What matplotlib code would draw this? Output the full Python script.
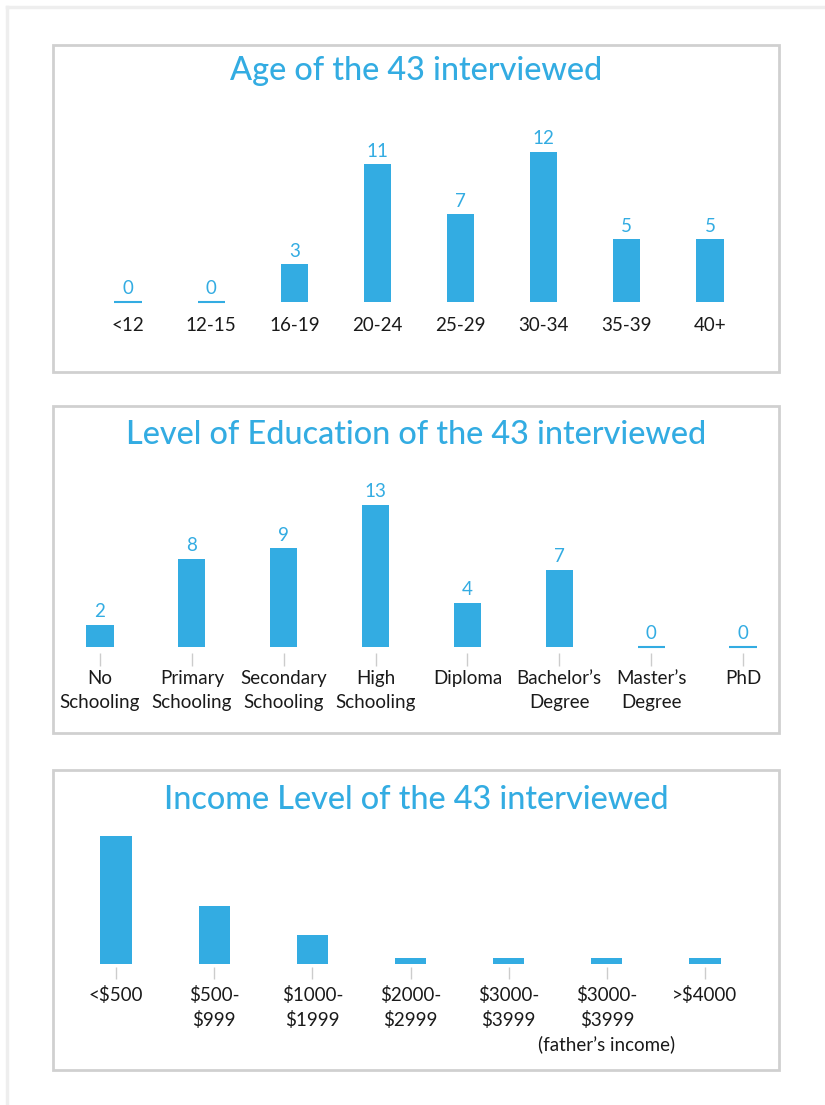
import matplotlib
matplotlib.use("Agg")
import matplotlib.pyplot as plt
from matplotlib.patches import Rectangle
from matplotlib.lines import Line2D

# ---------------- data ----------------
age_categories = ["<12", "12-15", "16-19", "20-24", "25-29", "30-34", "35-39", "40+"]
age_counts = [0, 0, 3, 11, 7, 12, 5, 5]

edu_categories = ["No\nSchooling", "Primary\nSchooling", "Secondary\nSchooling", "High\nSchooling",
                  "Diploma", "Bachelor\u2019s\nDegree", "Master\u2019s\nDegree", "PhD"]
edu_counts = [2, 8, 9, 13, 4, 7, 0, 0]

income_categories = ["<$500", "$500-\n$999", "$1000-\n$1999", "$2000-\n$2999", "$3000-\n$3999",
                     "$3000-\n$3999\n(father\u2019s income)", ">$4000"]
income_counts = [22, 10, 5, 1, 1, 1, 1]

titles = ["Age of the 43 interviewed",
          "Level of Education of the 43 interviewed",
          "Income Level of the 43 interviewed"]

# ---------------- style ----------------
BLUE = "#33ace2"
TEXT = "#1a1a1a"
BORDER = "#d0d0d0"
TICK = "#cccccc"
FONT = "Lato"

W, H = 825, 1105
fig = plt.figure(figsize=(W / 100, H / 100), dpi=100)
fig.patch.set_facecolor("white")


def fx(px):
    return px / W


def fy(py):
    return 1 - py / H


# outer light frame
fig.add_artist(Line2D([fx(6.5), 1.0], [fy(6.5), fy(6.5)], color="#eeeeee", lw=2.5,
                      transform=fig.transFigure))
fig.add_artist(Line2D([fx(6.5), fx(6.5)], [fy(6.5), 0.0], color="#eeeeee", lw=2.5,
                      transform=fig.transFigure))

# panels (left, top, right, bottom) in px
panels = [(53, 45, 779, 372), (53, 406, 779, 733), (53, 770, 779, 1070)]
for (l, t, r, b) in panels:
    fig.add_artist(Rectangle((fx(l), fy(b)), fx(r) - fx(l), fy(t) - fy(b),
                             transform=fig.transFigure, fill=False,
                             edgecolor=BORDER, lw=2.0))

title_y = [71, 435, 800]
for ttl, ty in zip(titles, title_y):
    fig.text(fx(416), fy(ty), ttl, ha="center", va="center", color=BLUE,
             fontsize=23.3, family=FONT, fontweight="medium")


def make_axes(x_first, x_last, n, baseline, top):
    step = (x_last - x_first) / (n - 1)
    left = x_first - step / 2
    right = x_last + step / 2
    ax = fig.add_axes([fx(left), fy(baseline), fx(right) - fx(left), fy(top) - fy(baseline)])
    ax.set_facecolor("none")
    ax.set_xlim(-0.5, n - 0.5)
    for s in ax.spines.values():
        s.set_visible(False)
    ax.set_yticks([])
    return ax, step


def draw(ax, cats, vals, width, ymax, show_values, ticks, pad, tick_len=0, tick_gap=0,
         linespacing=1.2):
    x = list(range(len(cats)))
    if ticks:
        ax.spines["bottom"].set_position(("outward", tick_gap))
    ax.set_ylim(0, ymax)
    bars = ax.bar(x, vals, width=width, color=BLUE, edgecolor="none")
    zero_x = [i for i, v in zip(x, vals) if v == 0]
    if zero_x:
        ax.hlines([0] * len(zero_x), [i - width / 2 for i in zero_x],
                  [i + width / 2 for i in zero_x], color=BLUE, lw=1.5, clip_on=False)
    if show_values:
        ax.bar_label(bars, labels=[str(v) for v in vals], padding=3.5, color=BLUE,
                     fontsize=13.5, family=FONT)
    ax.set_xticks(x)
    ax.set_xticklabels(cats, fontsize=13.5, family=FONT, color=TEXT, linespacing=linespacing)
    if ticks:
        ax.tick_params(axis="x", length=tick_len, width=1, color=TICK, pad=pad)
    else:
        ax.tick_params(axis="x", length=0, pad=pad)


# Age panel
ax1, _ = make_axes(128, 710, len(age_categories), 302, 130)
draw(ax1, age_categories, age_counts, 0.325, 172 / 12.5, True, False, pad=11)

# Education panel
ax2, _ = make_axes(100, 743, len(edu_categories), 646.5, 480)
draw(ax2, edu_categories, edu_counts, 0.295, 166.5 / 10.9, True, True, pad=3.5,
     tick_len=9, tick_gap=4.5, linespacing=1.5)

# Income panel
ax3, _ = make_axes(116, 705, len(income_categories), 964, 820)
draw(ax3, income_categories, income_counts, 0.316, 144 / 5.8, False, True, pad=5,
     tick_len=8.5, tick_gap=2.5, linespacing=1.45)

fig.savefig("out.png", dpi=100, facecolor="white")
